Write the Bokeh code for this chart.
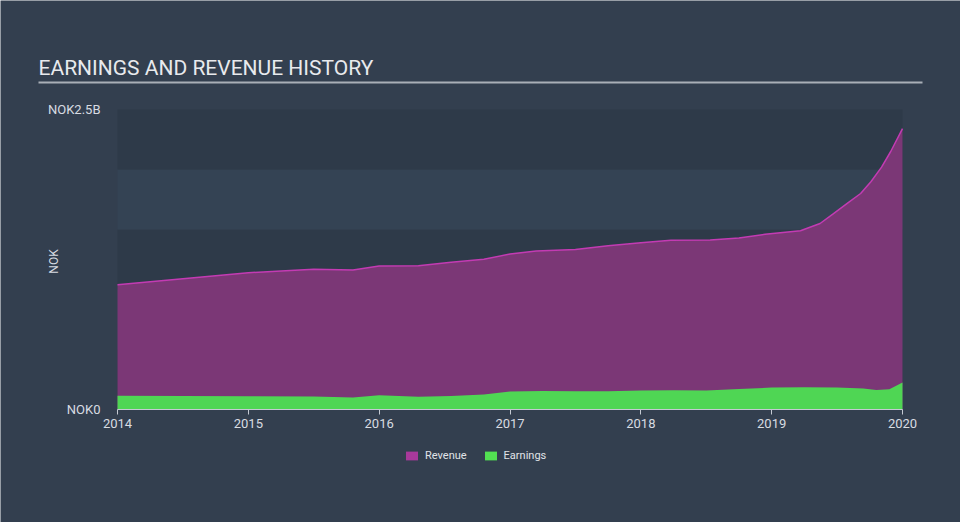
from bokeh.plotting import figure
from bokeh.models import (FixedTicker, Label, BoxAnnotation, Legend, LegendItem,
                          CustomJSTickFormatter, ColumnDataSource)
from bokeh.embed import file_html
from bokeh.resources import INLINE

# ---- data ----
rev_year = [2014.0, 2014.25, 2014.5, 2014.75, 2015.0, 2015.25, 2015.5, 2015.8,
            2016.0, 2016.3, 2016.55, 2016.8, 2017.0, 2017.2, 2017.5, 2017.75,
            2018.0, 2018.23, 2018.53, 2018.75, 2018.95, 2019.22, 2019.37,
            2019.47, 2019.58, 2019.68, 2019.76, 2019.84, 2019.91, 2020.0]
revenue_b = [1.04, 1.065, 1.09, 1.115, 1.14, 1.155, 1.168, 1.163,
             1.195, 1.197, 1.228, 1.252, 1.295, 1.32, 1.333, 1.365,
             1.39, 1.41, 1.412, 1.43, 1.46, 1.49, 1.55,
             1.63, 1.72, 1.80, 1.90, 2.02, 2.15, 2.34]

earn_year = [2014.0, 2014.5, 2015.0, 2015.5, 2015.8, 2016.0, 2016.3, 2016.55,
             2016.8, 2017.0, 2017.25, 2017.5, 2017.75, 2018.0, 2018.25, 2018.5,
             2018.75, 2019.0, 2019.25, 2019.5, 2019.7, 2019.8, 2019.9, 2020.0]
earnings_b = [0.115, 0.113, 0.11, 0.108, 0.1, 0.118, 0.107, 0.113,
              0.125, 0.15, 0.155, 0.152, 0.153, 0.158, 0.16, 0.158,
              0.17, 0.183, 0.185, 0.183, 0.175, 0.163, 0.168, 0.225]

x_ticks = [2014, 2015, 2016, 2017, 2018, 2019, 2020]
y_ticks = [0, 2.5]
y_tick_labels = ["NOK0", "NOK2.5B"]
band_edges = [0, 0.5, 1.0, 1.5, 2.0, 2.5]

title_text = "EARNINGS AND REVENUE HISTORY"
series_names = ["Revenue", "Earnings"]

BG = "#333f4f"
FONT = "Roboto"
NAN = float("nan")

# layout geometry (pixels) -> the frame fills the whole canvas
W, H = 960, 522
PLOT_L, PLOT_R, PLOT_T, PLOT_B = 117, 902, 109, 409
x0, x1 = x_ticks[0], x_ticks[-1]
y0, y1 = y_ticks[0], y_ticks[-1]
xs = (x1 - x0) / (PLOT_R - PLOT_L)
ys = (y1 - y0) / (PLOT_B - PLOT_T)
x_range = (x0 - PLOT_L * xs, x1 + (W - PLOT_R) * xs)
y_range = (y0 - (H - PLOT_B) * ys, y1 + PLOT_T * ys)

p = figure(width=W, height=H, output_backend="svg", toolbar_location=None,
           x_range=x_range, y_range=y_range,
           min_border=0)
p.background_fill_color = BG
p.border_fill_color = BG
p.outline_line_color = None
p.grid.visible = False

# alternating horizontal bands
for i in range(len(band_edges) - 1):
    color = "#2e3a49" if i % 2 == 0 else "#344354"
    p.add_layout(BoxAnnotation(bottom=band_edges[i], top=band_edges[i + 1],
                               left=x0, right=x1,
                               fill_color=color, fill_alpha=1.0, line_alpha=0,
                               level="underlay"))

rev_src = ColumnDataSource(dict(x=rev_year, y=revenue_b))
earn_src = ColumnDataSource(dict(x=earn_year, y=earnings_b))

p.varea(x="x", y1=0, y2="y", source=rev_src, fill_color="#7b3776")
p.line(x="x", y="y", source=rev_src, line_color="#c33bb3", line_width=1.5)
p.varea(x="x", y1=0, y2="y", source=earn_src, fill_color="#4fd654")

# legend swatches (proxy glyphs with no visible extent)
leg_rev = p.quad(left=[NAN], right=[NAN], top=[NAN], bottom=[NAN],
                 fill_color="#a8399b", line_alpha=0)
leg_earn = p.quad(left=[NAN], right=[NAN], top=[NAN], bottom=[NAN],
                  fill_color="#52e052", line_alpha=0)
legend = Legend(items=[LegendItem(label=series_names[0], renderers=[leg_rev]),
                       LegendItem(label=series_names[1], renderers=[leg_earn])],
                orientation="horizontal", location=(404, 60),
                glyph_width=15, glyph_height=11, label_standoff=6, spacing=16,
                label_text_font=FONT, label_text_font_size="11px",
                label_height=11,
                label_text_color="#e0e3e8", background_fill_alpha=0,
                border_line_alpha=0, padding=0, margin=0)
p.add_layout(legend, "center")

# axes (fixed at the data origin)
xa = p.xaxis[0]
xa.fixed_location = y0
xa.bounds = (x0, x1)
xa.ticker = FixedTicker(ticks=x_ticks)
xa.axis_line_color = "#c5cad3"
xa.major_tick_line_color = "#c5cad3"
xa.major_tick_out = 5
xa.major_tick_in = 0
xa.minor_tick_line_color = None
xa.major_label_text_font = FONT
xa.major_label_text_font_size = "13px"
xa.major_label_text_color = "#d8dce2"
xa.major_label_standoff = 4

ya = p.yaxis[0]
ya.fixed_location = x0
ya.ticker = FixedTicker(ticks=y_ticks)
ya.formatter = CustomJSTickFormatter(args=dict(yt=y_ticks, yl=y_tick_labels), code="""
    const i = yt.indexOf(tick);
    return i >= 0 ? yl[i] : '';
""")
ya.axis_line_color = None
ya.major_tick_line_color = None
ya.minor_tick_line_color = None
ya.major_label_text_font = FONT
ya.major_label_text_font_size = "13px"
ya.major_label_text_color = "#d8dce2"
ya.major_label_standoff = 11
ya.axis_label = "NOK"
ya.axis_label_text_font = FONT
ya.axis_label_text_font_size = "12px"
ya.axis_label_text_font_style = "normal"
ya.axis_label_text_color = "#d8dce2"
ya.axis_label_standoff = -16

# title and underline
p.add_layout(Label(x=38, y=79, x_units="canvas", y_units="canvas", text=title_text,
                   text_font=FONT, text_font_size="21px", text_color="#e8eaed",
                   text_baseline="bottom", text_align="left"))
p.add_layout(BoxAnnotation(left=38, right=922, top=81, bottom=83,
                           left_units="canvas", right_units="canvas",
                           top_units="canvas", bottom_units="canvas",
                           fill_color="#a9afb7", fill_alpha=1.0, line_alpha=0))

open("out.html", "w").write(file_html(p, INLINE))
